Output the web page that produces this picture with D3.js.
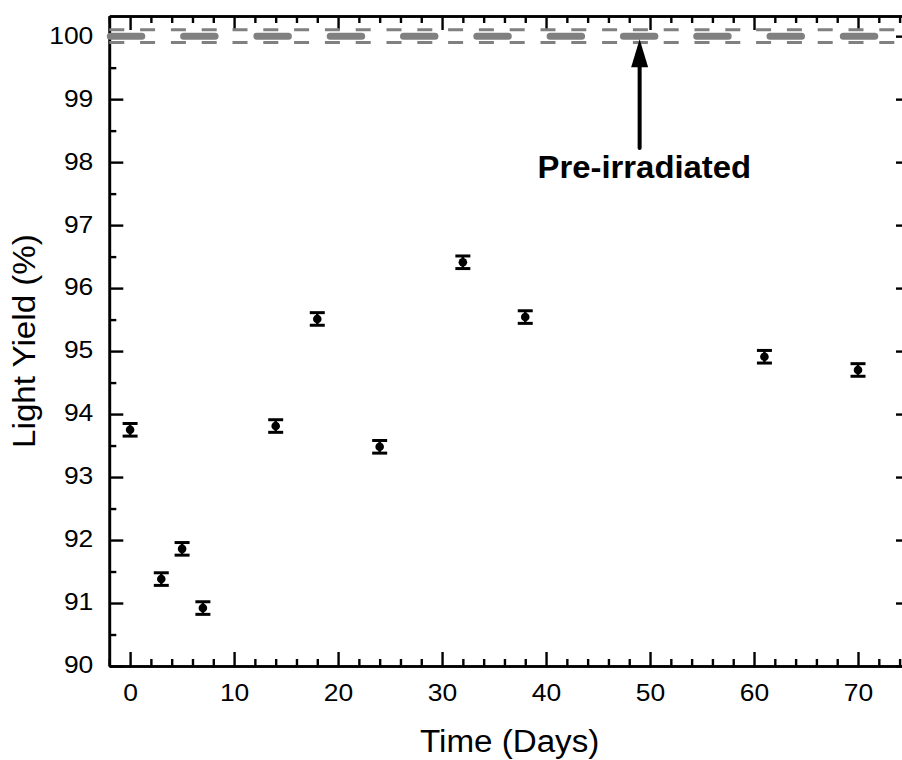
<!DOCTYPE html>
<html lang="en">
    <head>
        <meta charset="utf-8">
        <title>Light Yield vs Time</title>
        <script src="https://d3js.org/d3.v7.min.js"></script>
        <style type="text/css">
            body {
                margin: 0;
                background: white;
            }
            .tickLabel {
                font-family: "Liberation Sans", Arial, sans-serif;
                font-size: 23px;
                fill: black;
            }
            .axisTitle {
                font-family: "Liberation Sans", Arial, sans-serif;
                font-size: 31px;
                fill: black;
            }
            .note {
                font-family: "Liberation Sans", Arial, sans-serif;
                font-size: 31px;
                font-weight: bold;
                fill: black;
            }
        </style>
    </head>
    <body>
        <svg width="902" height="760"></svg>
        <script type="text/javascript">

            // data
            const days = [0, 3, 5, 7, 14, 18, 24, 32, 38, 61, 70];
            const lightYield = [93.75, 91.38, 91.86, 90.92, 93.81, 95.51, 93.48, 96.41, 95.54, 94.91, 94.70];
            const yieldErr = [0.1, 0.1, 0.1, 0.1, 0.1, 0.1, 0.1, 0.1, 0.1, 0.1, 0.1];

            const xTicks = [0, 10, 20, 30, 40, 50, 60, 70];
            const yTicks = [90, 91, 92, 93, 94, 95, 96, 97, 98, 99, 100];

            const preIrradiated = 100;
            const preErr = 0.1;
            const noteDay = 49;
            const noteText = "Pre-irradiated";

            const svg = d3.select("svg");

            const plotLeft = 109.3, plotRight = 910, plotTop = 16, plotBottom = 666;

            const x = d3.scaleLinear().domain([-2, 75]).range([plotLeft, plotRight]);
            const y = d3.scaleLinear().domain([90, 100.32]).range([plotBottom, plotTop]);

            const xMinor = d3.range(-2, 76, 2).filter(d => d % 10 !== 0);
            const yMinor = d3.range(90, 100.4, 0.5).filter(d => d % 1 !== 0);

            const major = 14, minor = 7;

            function styleAxis(g) {
                g.selectAll("path.domain").attr("stroke", "black").attr("stroke-width", 2.6);
                g.selectAll(".tick line").attr("stroke", "black").attr("stroke-width", 2.4);
            }

            // minor ticks first
            svg.append("g").attr("transform", "translate(0," + plotBottom + ")")
               .call(d3.axisBottom(x).tickValues(xMinor).tickSize(-minor).tickSizeOuter(0).tickFormat(""))
               .call(styleAxis);
            svg.append("g").attr("transform", "translate(0," + plotTop + ")")
               .call(d3.axisTop(x).tickValues(xMinor).tickSize(-minor).tickSizeOuter(0).tickFormat(""))
               .call(styleAxis);
            svg.append("g").attr("transform", "translate(" + plotLeft + ",0)")
               .call(d3.axisLeft(y).tickValues(yMinor).tickSize(-minor).tickSizeOuter(0).tickFormat(""))
               .call(styleAxis);
            svg.append("g").attr("transform", "translate(" + plotRight + ",0)")
               .call(d3.axisRight(y).tickValues(yMinor).tickSize(-minor).tickSizeOuter(0).tickFormat(""))
               .call(styleAxis);

            // major ticks
            const xAxis = svg.append("g").attr("transform", "translate(0," + plotBottom + ")")
               .call(d3.axisBottom(x).tickValues(xTicks).tickSize(-major).tickSizeOuter(0).tickFormat(d3.format("d")))
               .call(styleAxis);
            xAxis.selectAll("text")
                 .attr("class", "tickLabel")
                 .attr("font-family", null).attr("font-size", null)
                 .attr("y", 35).attr("dy", null)
                 .attr("transform", "scale(1.15,1)");

            svg.append("g").attr("transform", "translate(0," + plotTop + ")")
               .call(d3.axisTop(x).tickValues(xTicks).tickSize(-major).tickSizeOuter(0).tickFormat(""))
               .call(styleAxis);

            const yAxis = svg.append("g").attr("transform", "translate(" + plotLeft + ",0)")
               .call(d3.axisLeft(y).tickValues(yTicks).tickSize(-major).tickSizeOuter(0).tickFormat(d3.format("d")))
               .call(styleAxis);
            yAxis.selectAll("text")
                 .attr("class", "tickLabel")
                 .attr("font-family", null).attr("font-size", null)
                 .attr("x", -16 / 1.15).attr("dy", "0.3em")
                 .attr("transform", "scale(1.15,1)");

            svg.append("g").attr("transform", "translate(" + plotRight + ",0)")
               .call(d3.axisRight(y).tickValues(yTicks).tickSize(-major).tickSizeOuter(0).tickFormat(""))
               .call(styleAxis);

            // pre-irradiated reference line with its error band
            svg.append("line")
               .attr("x1", x(-2)).attr("x2", x(75))
               .attr("y1", y(preIrradiated)).attr("y2", y(preIrradiated))
               .attr("stroke", "#808080").attr("stroke-width", 7)
               .attr("stroke-linecap", "round")
               .attr("stroke-dasharray", "31.5,41.8")
               .attr("stroke-dashoffset", -1);

            [preIrradiated - preErr, preIrradiated + preErr].forEach(v => {
                svg.append("line")
                   .attr("x1", x(-2)).attr("x2", x(75))
                   .attr("y1", y(v)).attr("y2", y(v))
                   .attr("stroke", "#808080").attr("stroke-width", 3)
                   .attr("stroke-dasharray", "15,15.8");
            });

            // arrow
            const ax = x(noteDay);
            const tipY = y(preIrradiated) + 3;
            svg.append("line")
               .attr("x1", ax).attr("x2", ax)
               .attr("y1", 148).attr("y2", tipY + 20)
               .attr("stroke", "black").attr("stroke-width", 4)
               .attr("stroke-linecap", "round");
            svg.append("path")
               .attr("d", "M" + ax + "," + tipY + " L" + (ax - 8.5) + "," + (tipY + 28) + " L" + (ax + 8.5) + "," + (tipY + 28) + " Z")
               .attr("fill", "black");

            svg.append("text")
               .attr("class", "note")
               .attr("text-anchor", "middle")
               .attr("transform", "translate(" + x(noteDay + 0.45) + ",178) scale(1.06,1)")
               .text(noteText);

            // error bars and points
            const pts = svg.append("g");
            days.forEach((d, i) => {
                const cx = x(d);
                const y0 = y(lightYield[i] - yieldErr[i]);
                const y1 = y(lightYield[i] + yieldErr[i]);
                pts.append("line")
                   .attr("x1", cx).attr("x2", cx).attr("y1", y0).attr("y2", y1)
                   .attr("stroke", "black").attr("stroke-width", 2.5);
                [y0, y1].forEach(yy => {
                    pts.append("line")
                       .attr("x1", cx - 7.5).attr("x2", cx + 7.5).attr("y1", yy).attr("y2", yy)
                       .attr("stroke", "black").attr("stroke-width", 3);
                });
                pts.append("circle")
                   .attr("cx", cx).attr("cy", y(lightYield[i]))
                   .attr("r", 4.3).attr("fill", "black");
            });

            // axis titles
            svg.append("text")
               .attr("class", "axisTitle")
               .attr("text-anchor", "middle")
               .attr("transform", "translate(" + ((plotLeft + plotRight) / 2) + ",752) scale(1.07,1)")
               .text("Time (Days)");

            svg.append("text")
               .attr("class", "axisTitle")
               .attr("text-anchor", "middle")
               .attr("transform", "translate(35," + ((plotTop + plotBottom) / 2) + ") rotate(-90) scale(1.07,1)")
               .text("Light Yield (%)");

        </script>
    </body>
</html>
